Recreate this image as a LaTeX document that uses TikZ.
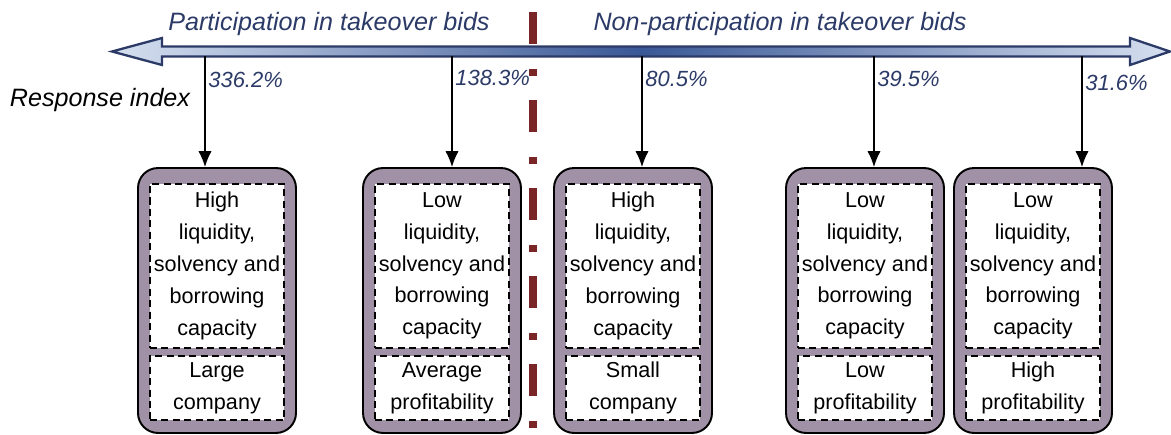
\documentclass[tikz,border=0pt]{standalone}
\usepackage{fontspec}
\setmainfont{Liberation Sans}
\usepackage{tikz}
\usetikzlibrary{arrows.meta}
\definecolor{navy}{HTML}{2B3A67}
\definecolor{arrowlight}{HTML}{D6E0F0}
\definecolor{arrowdark}{HTML}{3A5896}
\definecolor{mauve}{HTML}{A191A6}
\definecolor{dashred}{HTML}{7A2626}

\begin{document}
\begin{tikzpicture}[x=0.02cm,y=-0.02cm,
	outerbox/.style={draw=black,line width=1.1pt,fill=mauve,rounded corners=0.4cm,minimum width=3.16cm,minimum height=5.3cm},
	innerbox/.style={draw=black,dash pattern=on 4pt off 2.5pt,line width=0.8pt,fill=white,minimum width=2.68cm,align=center,inner sep=0pt,font=\fontsize{12.3}{18.1}\selectfont},
	headline/.style={font=\fontsize{14.3}{16}\selectfont\itshape,text=navy},
	pct/.style={font=\fontsize{12.5}{14}\selectfont\itshape,text=navy,anchor=west,inner sep=0pt},
	down/.style={-{Latex[length=9pt,width=7.5pt]},line width=0.8pt}]
	\useasboundingbox (0,0) rectangle (1171,435);
	% separator
	\draw[dashred,line width=4pt,dash pattern=on 0.64cm off 0.5cm on 0.14cm off 0.48cm] (533,12) -- (533,435);
	% axis arrow
	\draw[line width=1.3pt,draw=navy,left color=arrowlight,right color=arrowlight,middle color=arrowdark]
		(112,51.5) -- (162,38) -- (162,46.5) -- (1130,46.5) -- (1130,38) -- (1170,51.5)
		-- (1130,65) -- (1130,56.5) -- (162,56.5) -- (162,65) -- cycle;
	\node[headline] (part) at (329,24) {Participation in takeover bids};
	\node[headline] (nonpart) at (780,24) {Non-participation in takeover bids};
	\node[font=\fontsize{14.3}{16}\selectfont\itshape] (resp) at (100,100) {Response index};
	% groups
	\foreach \n/\cx/\ax/\py/\pc/\up/\lo in {
		1/217/205/80/336.2\%/{High\\liquidity,\\solvency and\\borrowing\\capacity}/{Large\\company},
		2/442/452/78/138.3\%/{Low\\liquidity,\\solvency and\\borrowing\\capacity}/{Average\\profitability},
		3/633/642/79/80.5\%/{High\\liquidity,\\solvency and\\borrowing\\capacity}/{Small\\company},
		4/865/874/79/39.5\%/{Low\\liquidity,\\solvency and\\borrowing\\capacity}/{Low\\profitability},
		5/1033/1082/83/31.6\%/{Low\\liquidity,\\solvency and\\borrowing\\capacity}/{High\\profitability}}{
		\node[outerbox] (b\n) at (\cx,300.5) {};
		\node[innerbox,minimum height=3.28cm] (b\n u) at (\cx,266) {\up};
		\node[innerbox,minimum height=1.28cm] (b\n l) at (\cx,388) {\lo};
		\coordinate (t\n) at (\ax,56.5);
		\draw[down] (t\n) -- (t\n |- b\n.north);
		\node[pct] (p\n) at (\ax+3,\py) {\pc};
	}
\end{tikzpicture}
\end{document}
